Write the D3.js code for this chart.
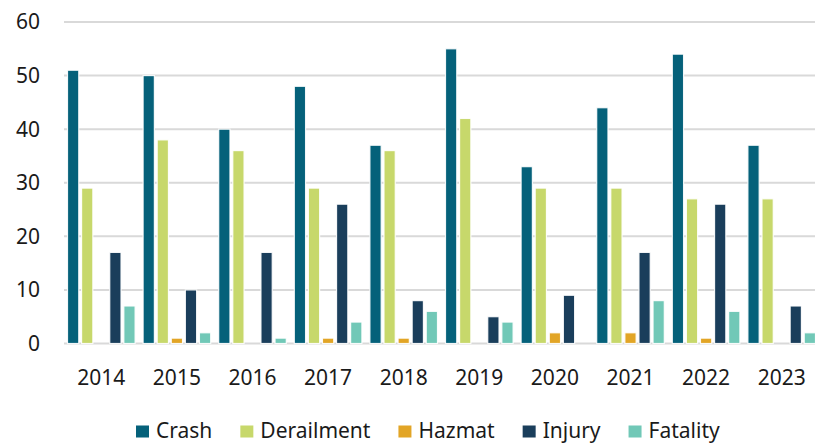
<!DOCTYPE html>
<html>
<head>
<meta charset="utf-8">
<script src="https://cdn.jsdelivr.net/npm/d3@7"></script>
<style>
  html, body { margin: 0; padding: 0; background: #fff; }
  svg text { font-family: "Noto Sans", "Open Sans", sans-serif; fill: #1a1a1a; }
</style>
</head>
<body>
<svg id="chart" width="815" height="444"></svg>
<script>
// Yearly incident counts by type
const years = ["2014", "2015", "2016", "2017", "2018", "2019", "2020", "2021", "2022", "2023"];
const seriesNames = ["Crash", "Derailment", "Hazmat", "Injury", "Fatality"];
const crash      = [51, 50, 40, 48, 37, 55, 33, 44, 54, 37];
const derailment = [29, 38, 36, 29, 36, 42, 29, 29, 27, 27];
const hazmat     = [0, 1, 0, 1, 1, 0, 2, 2, 1, 0];
const injury     = [17, 10, 17, 26, 8, 5, 9, 17, 26, 7];
const fatality   = [7, 2, 1, 4, 6, 4, 0, 8, 6, 2];
const yTicks = [0, 10, 20, 30, 40, 50, 60];
const colors = ["#05617a", "#c7d86b", "#e2a526", "#1a3e5b", "#71c8b7"];

const seriesValues = [crash, derailment, hazmat, injury, fatality];
const rows = years.map((yr, i) => ({
  year: yr,
  values: seriesNames.map((name, s) => ({ name, value: seriesValues[s][i] }))
}));

const svg = d3.select("#chart");
const plot = { left: 63, right: 819, top: 22, bottom: 343.5 };

const x0 = d3.scaleBand().domain(years).range([plot.left, plot.right]).padding(0);
const x1 = d3.scaleBand().domain(seriesNames)
  .range([4.5, x0.bandwidth() - 3.5]).paddingInner(0.2);
const y = d3.scaleLinear().domain([0, 60]).range([plot.bottom, plot.top]);
const color = d3.scaleOrdinal().domain(seriesNames).range(colors);

// horizontal gridlines
svg.append("g").selectAll("line").data(yTicks).join("line")
  .attr("x1", plot.left + 1).attr("x2", 815)
  .attr("y1", d => y(d)).attr("y2", d => y(d))
  .attr("stroke", "#d9d9d9").attr("stroke-width", 2);

// y tick labels
svg.append("g").selectAll("text").data(yTicks).join("text")
  .attr("x", 40).attr("y", d => y(d))
  .attr("dy", "0.35em").attr("text-anchor", "end")
  .attr("font-size", 21).text(d => d);

// bars
const groups = svg.append("g").selectAll("g").data(rows).join("g")
  .attr("transform", d => `translate(${x0(d.year)},0)`);
groups.selectAll("rect").data(d => d.values).join("rect")
  .attr("x", d => x1(d.name))
  .attr("width", x1.bandwidth())
  .attr("y", d => y(d.value))
  .attr("height", d => y(0) - y(d.value))
  .attr("fill", d => color(d.name))
  .attr("stroke", "#fff").attr("stroke-width", 1.2)
  .attr("stroke-opacity", d => d.value > 0 ? 0.9 : 0);

// x axis labels
svg.append("g").selectAll("text").data(years).join("text")
  .attr("x", d => x0(d) + x0.bandwidth() / 2 + 0.5)
  .attr("y", 385).attr("text-anchor", "middle")
  .attr("font-size", 21).text(d => d);

// legend
const legend = svg.append("g");
let lx = 136;
seriesNames.forEach(name => {
  legend.append("rect")
    .attr("x", lx).attr("y", 425.5).attr("width", 13).attr("height", 12)
    .attr("fill", color(name));
  const t = legend.append("text")
    .attr("x", lx + 20).attr("y", 438)
    .attr("font-size", 21).text(name);
  lx += 20 + t.node().getComputedTextLength() + 28;
});
</script>
</body>
</html>
